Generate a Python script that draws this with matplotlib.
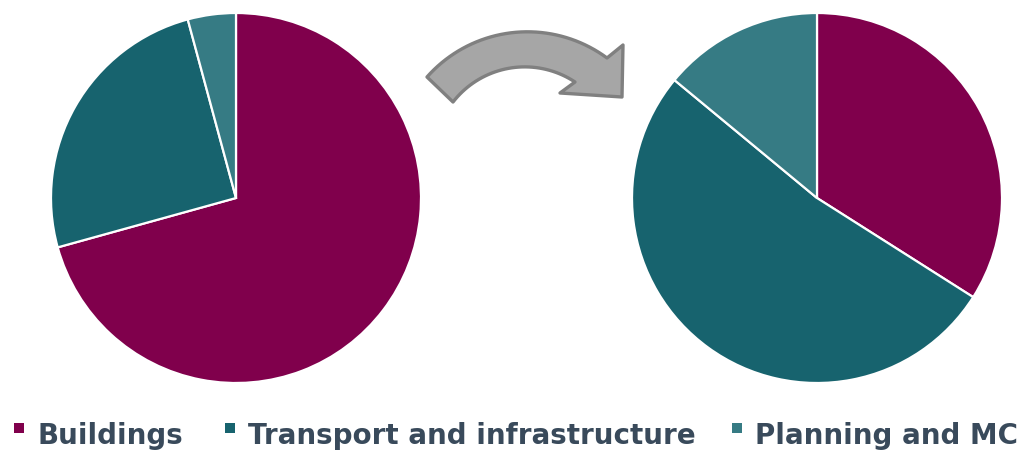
import matplotlib
matplotlib.use("Agg")
import matplotlib.pyplot as plt
import numpy as np
from matplotlib.patches import Polygon, Rectangle

# Data
categories = ["Buildings", "Transport and infrastructure", "Planning and MC"]
before = [70.7, 25.1, 4.2]
after = [34.0, 52.0, 14.0]
colors = ["#80004C", "#17636E", "#367B84"]

W, H = 1028, 455
fig = plt.figure(figsize=(W / 100, H / 100), dpi=100)


def pie_axes(cx, cy, r, values):
    ax = fig.add_axes([(cx - r) / W, 1 - (cy + r) / H, 2 * r / W, 2 * r / H])
    ax.pie(values, colors=colors, startangle=90, counterclock=False,
           wedgeprops=dict(edgecolor="white", linewidth=1.6))
    ax.set_xlim(-1, 1)
    ax.set_ylim(-1, 1)
    ax.set_aspect("equal")
    ax.axis("off")
    return ax


pie_axes(236, 198, 185, before)
pie_axes(817, 198, 185, after)


# Curved arrow between the pies (pixel coords, y down)
def px(x, y):
    return (x / W, 1 - y / H)


def arc(c, p0, p1, n=40):
    a0 = np.arctan2(p0[1] - c[1], p0[0] - c[0])
    a1 = np.arctan2(p1[1] - c[1], p1[0] - c[0])
    r = np.hypot(p0[0] - c[0], p0[1] - c[1])
    a = np.linspace(a0, a1, n)
    return [(c[0] + r * np.cos(t), c[1] + r * np.sin(t)) for t in a]


outer = arc((527.4, 165.9), (427, 77), (607, 58))
inner = arc((524.8, 157.8), (575, 82), (453, 102))
head = [(623, 45), (622, 97), (560, 93)]
pts = outer + head + inner
arrow = Polygon([px(x, y) for x, y in pts], closed=True, facecolor="#A6A6A6",
                edgecolor="#808080", linewidth=2.4, joinstyle="round",
                transform=fig.transFigure)
fig.patches.append(arrow)

# Legend drawn by hand
text_color = "#394A5B"
legend_x = [(14, 38), (225, 248), (732, 755)]
for (sx, tx), cat, col in zip(legend_x, categories, colors):
    fig.patches.append(Rectangle(px(sx, 433), 10 / W, 10 / H, facecolor=col,
                                 edgecolor="none", transform=fig.transFigure))
    fig.text(tx / W, 1 - 443.5 / H, cat, color=text_color, fontsize=20,
             fontweight="bold", family="DejaVu Sans", va="baseline", ha="left")

fig.savefig("out.png", dpi=100)
